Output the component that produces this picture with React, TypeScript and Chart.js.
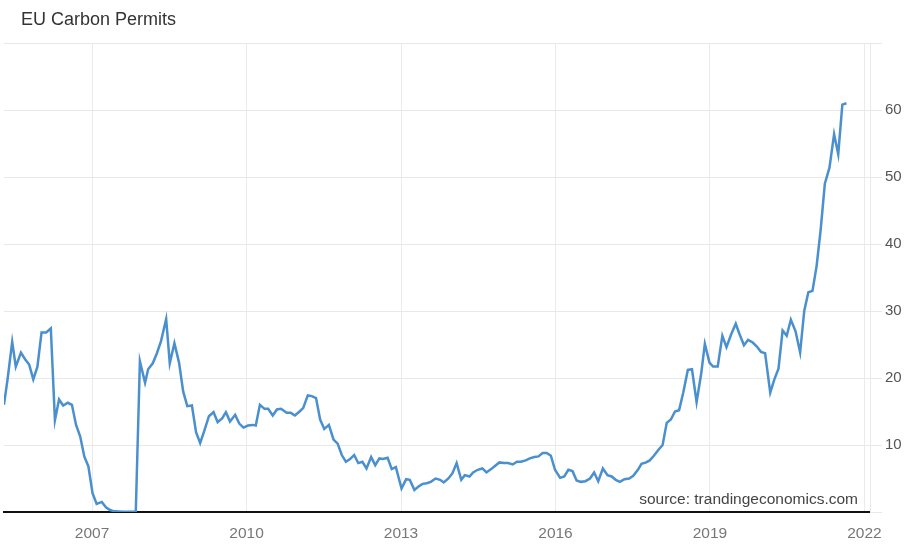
import React, { useEffect, useRef } from "react";
import { Chart, registerables } from "chart.js";

Chart.register(...registerables);

const chartTitle = "EU Carbon Permits";
const sourceNote = "source: trandingeconomics.com";

// decimal years (monthly observations)
const dates = [
  2005.29, 2005.36, 2005.45, 2005.52, 2005.62, 2005.70, 2005.78, 2005.86, 2005.94, 2006.02,
  2006.11, 2006.20, 2006.28, 2006.36, 2006.44, 2006.53, 2006.61, 2006.69, 2006.77, 2006.85,
  2006.93, 2007.01, 2007.09, 2007.19, 2007.27, 2007.35, 2007.43, 2007.52, 2007.60, 2007.69,
  2007.77, 2007.85, 2007.93, 2008.03, 2008.09, 2008.18, 2008.26, 2008.34, 2008.44, 2008.51,
  2008.60, 2008.69, 2008.77, 2008.85, 2008.94, 2009.02, 2009.10, 2009.18, 2009.27, 2009.36,
  2009.44, 2009.53, 2009.60, 2009.68, 2009.78, 2009.86, 2009.94, 2010.03, 2010.12, 2010.18,
  2010.26, 2010.35, 2010.42, 2010.51, 2010.59, 2010.67, 2010.78, 2010.86, 2010.94, 2011.03,
  2011.10, 2011.19, 2011.27, 2011.35, 2011.43, 2011.51, 2011.60, 2011.69, 2011.77, 2011.85,
  2011.93, 2012.01, 2012.09, 2012.17, 2012.25, 2012.33, 2012.42, 2012.50, 2012.58, 2012.65,
  2012.74, 2012.82, 2012.90, 2013.01, 2013.10, 2013.17, 2013.26, 2013.34, 2013.42, 2013.50,
  2013.58, 2013.67, 2013.76, 2013.83, 2013.92, 2014.00, 2014.08, 2014.17, 2014.24, 2014.33,
  2014.40, 2014.49, 2014.58, 2014.66, 2014.75, 2014.83, 2014.91, 2015.00, 2015.08, 2015.17,
  2015.25, 2015.33, 2015.42, 2015.50, 2015.59, 2015.67, 2015.75, 2015.83, 2015.91, 2015.99,
  2016.09, 2016.17, 2016.25, 2016.33, 2016.41, 2016.49, 2016.58, 2016.67, 2016.75, 2016.83,
  2016.92, 2017.01, 2017.09, 2017.17, 2017.25, 2017.34, 2017.43, 2017.51, 2017.60, 2017.67,
  2017.76, 2017.83, 2017.91, 2018.00, 2018.08, 2018.16, 2018.24, 2018.32, 2018.40, 2018.48,
  2018.57, 2018.65, 2018.74, 2018.83, 2018.90, 2018.99, 2019.06, 2019.15, 2019.24, 2019.32,
  2019.41, 2019.50, 2019.57, 2019.66, 2019.74, 2019.83, 2019.91, 2019.99, 2020.07, 2020.17,
  2020.25, 2020.33, 2020.41, 2020.49, 2020.57, 2020.66, 2020.75, 2020.83, 2020.91, 2020.99,
  2021.07, 2021.15, 2021.23, 2021.32, 2021.41, 2021.49, 2021.57, 2021.65,
];

// EUR per tonne
const prices = [
  16.0, 19.8, 25.4, 21.7, 23.8, 22.8, 22.0, 19.8, 21.7, 26.8,
  26.8, 27.4, 13.7, 16.8, 15.9, 16.3, 16.0, 13.0, 11.3, 8.3,
  6.8, 2.8, 1.2, 1.5, 0.7, 0.3, 0.1, 0.08, 0.05, 0.05,
  0.05, 0.05, 22.5, 19.3, 21.3, 22.2, 23.7, 25.5, 28.8, 22.2,
  25.2, 22.3, 18.0, 15.8, 15.9, 11.9, 10.3, 12.1, 14.3, 14.9,
  13.4, 14.0, 14.9, 13.5, 14.5, 13.2, 12.6, 12.9, 13.0, 12.9,
  16.0, 15.4, 15.4, 14.4, 15.3, 15.4, 14.8, 14.8, 14.4, 15.0,
  15.5, 17.4, 17.3, 17.0, 13.8, 12.4, 13.0, 10.8, 10.2, 8.5,
  7.5, 7.9, 8.5, 7.3, 7.5, 6.5, 8.2, 7.0, 8.0, 7.9,
  8.1, 6.4, 6.7, 3.5, 4.9, 4.8, 3.3, 3.8, 4.2, 4.3,
  4.5, 5.0, 4.8, 4.4, 5.0, 5.8, 7.3, 4.8, 5.5, 5.3,
  5.9, 6.3, 6.5, 5.9, 6.4, 6.9, 7.4, 7.3, 7.3, 7.1,
  7.5, 7.5, 7.7, 8.0, 8.2, 8.3, 8.8, 8.8, 8.4, 6.3,
  5.1, 5.3, 6.3, 6.1, 4.7, 4.5, 4.6, 5.0, 5.9, 4.6,
  6.5, 5.5, 5.3, 4.8, 4.5, 4.9, 5.0, 5.4, 6.3, 7.2,
  7.4, 7.7, 8.4, 9.3, 10.0, 13.3, 13.8, 15.0, 15.2, 17.8,
  21.2, 21.3, 16.4, 20.7, 25.1, 22.3, 21.7, 21.7, 26.3, 24.6,
  26.5, 28.1, 26.6, 24.9, 25.7, 25.3, 24.7, 23.9, 23.7, 17.8,
  19.8, 21.4, 27.1, 26.3, 28.7, 27.0, 23.8, 30.0, 32.8, 33.0,
  36.7, 42.2, 49.0, 51.4, 56.4, 53.4, 60.8, 61.0,
];

const xTickYears = [2007, 2010, 2013, 2016, 2019, 2022];
const yGridValues = [0, 10, 20, 30, 40, 50, 60, 70];
const yLabelValues = [10, 20, 30, 40, 50, 60];
const xMin = 2005.291;
const xMax = 2022.107;

const FONT = "'Liberation Sans', Arial, Helvetica, sans-serif";

export default function App() {
  const canvasRef = useRef<HTMLCanvasElement | null>(null);

  useEffect(() => {
    const canvas = canvasRef.current;
    if (!canvas) return;

    const textPlugin = {
      id: "textOverlay",
      afterDraw(chart: any) {
        const c = chart.ctx;
        const area = chart.chartArea;
        c.save();
        c.font = `18px ${FONT}`;
        c.fillStyle = "#333333";
        c.textAlign = "left";
        c.textBaseline = "alphabetic";
        c.fillText(chartTitle, 21, 25);
        c.font = `15.5px ${FONT}`;
        c.fillStyle = "#444444";
        c.textAlign = "right";
        c.fillText(sourceNote, area.right - 12, area.bottom - 8);
        c.restore();
      },
    };

    const chart = new Chart(canvas, {
      type: "line",
      data: {
        datasets: [
          {
            data: dates.map((d, i) => ({ x: d, y: prices[i] })),
            borderColor: "#4a8fce",
            borderWidth: 2.5,
            pointRadius: 0,
            tension: 0,
            fill: false,
          },
        ],
      },
      options: {
        animation: false,
        responsive: false,
        maintainAspectRatio: false,
        layout: { padding: { top: 43, left: 4, right: 0, bottom: 0 } },
        plugins: {
          legend: { display: false },
          tooltip: { enabled: false },
          title: { display: false },
        },
        scales: {
          x: {
            type: "linear",
            min: xMin,
            max: xMax,
            afterBuildTicks: (s: any) => {
              s.ticks = xTickYears.map((v) => ({ value: v }));
            },
            afterFit: (s: any) => {
              s.height = 34;
            },
            grid: { color: "#ebebeb", drawTicks: false, lineWidth: 1 },
            border: { display: true, color: "#111111", width: 2 },
            ticks: {
              autoSkip: false,
              maxRotation: 0,
              padding: 12,
              color: "#777777",
              font: { family: FONT, size: 15.5 },
              callback: (v: any) => String(v),
            },
          },
          y: {
            position: "right",
            min: 0,
            max: 70,
            afterBuildTicks: (s: any) => {
              s.ticks = yGridValues.map((v) => ({ value: v }));
            },
            afterFit: (s: any) => {
              s.width = 45;
            },
            grid: {
              color: (ctx: any) =>
                ctx.tick && ctx.tick.value === 0 ? "rgba(0,0,0,0)" : "#e8e8e8",
              tickColor: "#e8e8e8",
              drawTicks: true,
              tickLength: 12,
              lineWidth: 1,
            },
            border: { display: true, color: "#e8e8e8", width: 1 },
            ticks: {
              padding: 3,
              color: "#555555",
              font: { family: FONT, size: 15 },
              callback: (v: any) => (yLabelValues.includes(Number(v)) ? String(v) : ""),
            },
          },
        },
      },
      plugins: [textPlugin],
    } as any);

    return () => chart.destroy();
  }, []);

  return (
    <div
      style={{
        position: "absolute",
        left: 0,
        top: 0,
        width: 915,
        height: 546,
        background: "#ffffff",
      }}
    >
      <canvas ref={canvasRef} width={915} height={546} style={{ display: "block" }} />
    </div>
  );
}
